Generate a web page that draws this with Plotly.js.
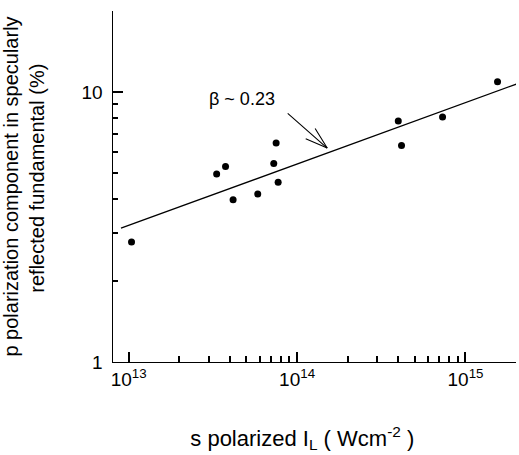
<!DOCTYPE html>
<html>
<head>
<meta charset="utf-8">
<script src="https://cdn.plot.ly/plotly-3.0.1.min.js"></script>
<style>html,body{margin:0;padding:0;background:#fff;}#chart{width:519px;height:455px;}</style>
</head>
<body>
<div id="chart"></div>
<script>
// measured points
const intensityX = [1.04e13, 3.33e13, 3.76e13, 4.17e13, 5.84e13, 7.27e13, 7.51e13, 7.72e13, 3.99e14, 4.17e14, 7.31e14, 1.55e15];
const pComponentY = [2.78, 4.97, 5.30, 3.99, 4.19, 5.44, 6.47, 4.63, 7.81, 6.33, 8.08, 10.92];
// fitted power law, slope ~0.23
const fitX = [9.0e12, 2.09e15];
const fitY = [3.13, 10.8];
const xMajorTicks = [1e13, 1e14, 1e15];
const xMajorLabels = ['10<sup>13</sup>', '10<sup>14</sup>', '10<sup>15</sup>'];
const xMinorTicks = [2e13,3e13,4e13,5e13,6e13,7e13,8e13,9e13,2e14,3e14,4e14,5e14,6e14,7e14,8e14,9e14];
const yMajorTicks = [1, 10];
const yMajorLabels = ['1', '10'];
const yMinorTicks = [2,3,4,5,6,7,8,9];
const annotationText = 'β ~ 0.23';
const arrowTip = [1.51e14, 6.20];

const FONT = 'Liberation Sans, Arial, Helvetica, sans-serif';

const traces = [
  {x: fitX, y: fitY, mode: 'lines', type: 'scatter', line: {color: '#000', width: 1.3}, hoverinfo: 'skip', showlegend: false},
  {x: intensityX, y: pComponentY, mode: 'markers', type: 'scatter', marker: {color: '#000', size: 7}, showlegend: false}
];

const tipX = Math.log10(arrowTip[0]), tipY = Math.log10(arrowTip[1]);
const seg = (ax, ay) => ({x: tipX, y: tipY, xref: 'x', yref: 'y', ax: ax, ay: ay, text: '', showarrow: true, arrowhead: 0, arrowwidth: 1.1, arrowcolor: '#000', standoff: 0, startstandoff: 0});

const layout = {
  width: 519, height: 455,
  margin: {l: 113, r: 3, t: 11, b: 93},
  paper_bgcolor: '#fff', plot_bgcolor: '#fff',
  font: {family: FONT, color: '#000', size: 19},
  showlegend: false,
  xaxis: {
    type: 'log', range: [12.907, 15.3],
    showgrid: false, zeroline: false, showline: true, linecolor: '#000', linewidth: 1.3,
    tickmode: 'array', tickvals: xMajorTicks, ticktext: xMajorLabels,
    ticks: 'inside', ticklen: 10, tickwidth: 2, tickcolor: '#000',
    tickfont: {size: 19, family: FONT},
    minor: {tickmode: 'array', tickvals: xMinorTicks, ticks: 'inside', ticklen: 6, tickwidth: 2, tickcolor: '#000', showgrid: false},
    title: {text: 's polarized I<sub>L</sub> ( Wcm<sup>-2</sup> )&nbsp;&nbsp;&nbsp;&nbsp;', font: {size: 22, family: FONT}, standoff: 41},
    automargin: false
  },
  yaxis: {
    type: 'log', range: [0, 1.3],
    showgrid: false, zeroline: false, showline: true, linecolor: '#000', linewidth: 1.3,
    tickmode: 'array', tickvals: yMajorTicks, ticktext: yMajorLabels.map(t => t + '&nbsp;'),
    ticks: 'inside', ticklen: 10, tickwidth: 2, tickcolor: '#000',
    tickfont: {size: 19, family: FONT},
    minor: {tickmode: 'array', tickvals: yMinorTicks, ticks: 'inside', ticklen: 5, tickwidth: 2, tickcolor: '#000', showgrid: false},
    title: {text: 'p polarization component in specularly<br>&nbsp;&nbsp;&nbsp;reflected fundamental (%)', font: {size: 20, family: FONT}, standoff: 36},
    automargin: false
  },
  annotations: [
    {x: 13.670, y: 0.975, xref: 'x', yref: 'y', text: annotationText, showarrow: false, font: {size: 18, family: FONT}},
    seg(-41, -36),
    seg(-23, -10),
    seg(-13, -21)
  ]
};

Plotly.newPlot('chart', traces, layout, {displayModeBar: false, staticPlot: true});
</script>
</body>
</html>
